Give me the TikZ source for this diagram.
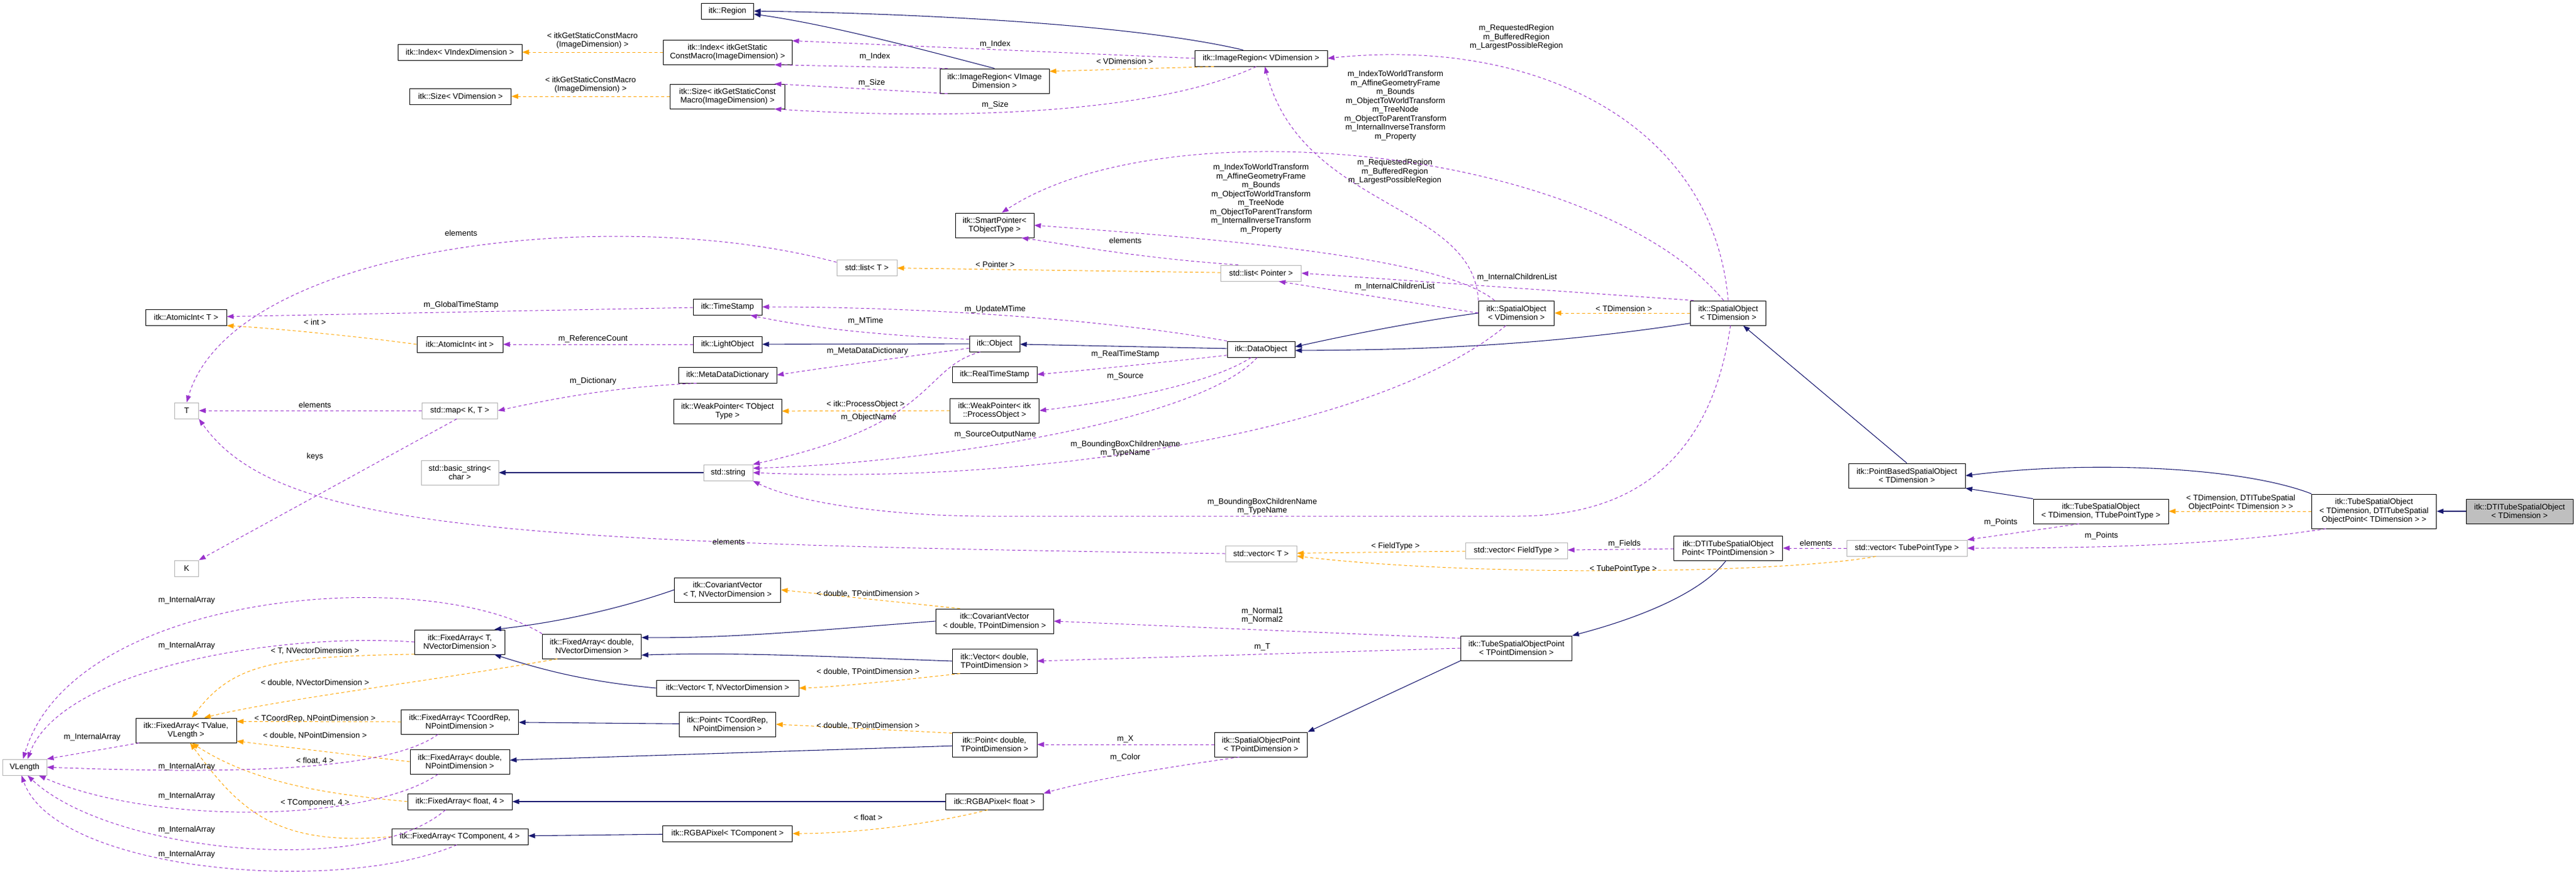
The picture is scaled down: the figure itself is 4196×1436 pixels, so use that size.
\documentclass[tikz,border=0pt]{standalone}
\usepackage{fontspec}
\setmainfont{Liberation Sans}
\usetikzlibrary{arrows.meta}
\definecolor{navy}{RGB}{25,25,112}
\definecolor{purp}{RGB}{153,50,204}
\definecolor{orng}{RGB}{255,165,0}
\begin{document}
\begin{tikzpicture}[x=1pt,y=-1pt,
  every node/.style={font=\fontsize{13}{14.5}\selectfont,align=center,inner sep=2pt},
  box/.style={draw=black,line width=1pt,fill=white,minimum height=26pt,inner xsep=4pt},
  gbox/.style={draw=black!30,line width=1pt,fill=white,minimum height=26pt,inner xsep=4pt},
  tip/.style={-{Triangle[length=11pt,width=8pt]}},
  inh/.style={tip,draw=navy,line width=1.1pt},
  mem/.style={tip,draw=purp,dashed,dash pattern=on 5pt off 4pt,line width=1pt},
  tpl/.style={tip,draw=orng,dashed,dash pattern=on 5pt off 4pt,line width=1pt},
  lbl/.style={}]
\useasboundingbox (0,0) rectangle (4196,1436);
% nodes
\node[box,minimum width=85] (region) at (1185,18) {itk::Region};
\node[box,minimum width=202] (indexv) at (749,85) {itk::Index< VIndexDimension >};
\node[box,minimum width=210,minimum height=40] (indexs) at (1185,85) {itk::Index< itkGetStatic\\ConstMacro(ImageDimension) >};
\node[box,minimum width=165] (sizev) at (750,157) {itk::Size< VDimension >};
\node[box,minimum width=187,minimum height=40] (sizes) at (1185,157) {itk::Size< itkGetStaticConst\\Macro(ImageDimension) >};
\node[box,minimum width=216] (irv) at (2054,95) {itk::ImageRegion< VDimension >};
\node[box,minimum width=178,minimum height=40] (irvi) at (1620,132) {itk::ImageRegion< VImage\\Dimension >};
\node[box,minimum width=128,minimum height=40] (smart) at (1620,367) {itk::SmartPointer<\\TObjectType >};
\node[gbox,minimum width=98] (listt) at (1412,436) {std::list< T >};
\node[gbox,minimum width=131] (listp) at (2054,445) {std::list< Pointer >};
\node[box,minimum width=123,minimum height=40] (sov) at (2470,510) {itk::SpatialObject\\< VDimension >};
\node[box,minimum width=123,minimum height=40] (sot) at (2815,510) {itk::SpatialObject\\< TDimension >};
\node[box,minimum width=132] (atomt) at (303,517) {itk::AtomicInt< T >};
\node[box,minimum width=140] (atomi) at (749,561) {itk::AtomicInt< int >};
\node[box,minimum width=112] (ts) at (1185,500) {itk::TimeStamp};
\node[box,minimum width=112] (light) at (1185,561) {itk::LightObject};
\node[box,minimum width=160] (mdd) at (1185,611) {itk::MetaDataDictionary};
\node[box,minimum width=176,minimum height=40] (weakt) at (1185,670) {itk::WeakPointer< TObject\\Type >};
\node[gbox,minimum width=39] (T) at (304,669) {T};
\node[gbox,minimum width=123] (map) at (749,669) {std::map< K, T >};
\node[box,minimum width=82] (obj) at (1620,560) {itk::Object};
\node[box,minimum width=110] (dobj) at (2054,569) {itk::DataObject};
\node[box,minimum width=138] (rts) at (1620,610) {itk::RealTimeStamp};
\node[box,minimum width=145,minimum height=40] (weakp) at (1620,669) {itk::WeakPointer< itk\\::ProcessObject >};
\node[gbox,minimum width=126,minimum height=40] (bstr) at (749,770) {std::basic\_string<\\char >};
\node[gbox,minimum width=80] (str) at (1186,770) {std::string};
\node[gbox,minimum width=39] (K) at (304,926) {K};
\node[box,minimum width=173,minimum height=40] (cvt) at (1185,961) {itk::CovariantVector\\< T, NVectorDimension >};
\node[box,minimum width=147,minimum height=40] (fat) at (749,1046) {itk::FixedArray< T,\\NVectorDimension >};
\node[box,minimum width=161,minimum height=40] (fadn) at (964,1053) {itk::FixedArray< double,\\NVectorDimension >};
\node[box,minimum width=232] (vt) at (1185,1121) {itk::Vector< T, NVectorDimension >};
\node[box,minimum width=164,minimum height=40] (fatv) at (303,1190) {itk::FixedArray< TValue,\\VLength >};
\node[box,minimum width=191,minimum height=40] (fac) at (749,1176) {itk::FixedArray< TCoordRep,\\NPointDimension >};
\node[box,minimum width=157,minimum height=40] (pt) at (1185,1180) {itk::Point< TCoordRep,\\NPointDimension >};
\node[box,minimum width=162,minimum height=40] (fadp) at (749,1241) {itk::FixedArray< double,\\NPointDimension >};
\node[gbox,minimum width=72] (vl) at (40,1250) {VLength};
\node[box,minimum width=170] (faf) at (749,1306) {itk::FixedArray< float, 4 >};
\node[box,minimum width=222] (fatc) at (749,1363) {itk::FixedArray< TComponent, 4 >};
\node[box,minimum width=211] (rgbt) at (1185,1358) {itk::RGBAPixel< TComponent >};
\node[box,minimum width=192,minimum height=40] (cvd) at (1620,1012) {itk::CovariantVector\\< double, TPointDimension >};
\node[box,minimum width=138,minimum height=40] (vd) at (1620,1077) {itk::Vector< double,\\TPointDimension >};
\node[box,minimum width=138,minimum height=40] (pd) at (1620,1213) {itk::Point< double,\\TPointDimension >};
\node[box,minimum width=159] (rgbf) at (1620,1306) {itk::RGBAPixel< float >};
\node[gbox,minimum width=116] (vect) at (2054,902) {std::vector< T >};
\node[gbox,minimum width=166] (vecf) at (2470,897) {std::vector< FieldType >};
\node[box,minimum width=177,minimum height=40] (dtip) at (2815,893) {itk::DTITubeSpatialObject\\Point< TPointDimension >};
\node[box,minimum width=181,minimum height=40] (tsop) at (2470,1056) {itk::TubeSpatialObjectPoint\\< TPointDimension >};
\node[box,minimum width=151,minimum height=40] (sop) at (2054,1213) {itk::SpatialObjectPoint\\< TPointDimension >};
\node[box,minimum width=190,minimum height=40] (pbso) at (3106,775) {itk::PointBasedSpatialObject\\< TDimension >};
\node[box,minimum width=220,minimum height=40] (tubett) at (3422,833) {itk::TubeSpatialObject\\< TDimension, TTubePointType >};
\node[box,minimum width=203,minimum height=56] (tubedti) at (3867,833) {itk::TubeSpatialObject\\< TDimension, DTITubeSpatial\\ObjectPoint< TDimension > >};
\node[box,minimum width=174,minimum height=40,fill=black!25] (dti) at (4104,833) {itk::DTITubeSpatialObject\\< TDimension >};
\node[gbox,minimum width=196] (vectp) at (3106,893) {std::vector< TubePointType >};

% inheritance
\draw[inh] (irv.155) .. controls (1850,40) and (1500,22) .. (region.east);
\draw[inh] (irvi.north) .. controls (1500,80) and (1350,40) .. ([yshift=-5]region.east);
\draw[inh] (obj) -- (light);
\draw[inh] (dobj) -- (obj);
\draw[inh] (sov.west) .. controls (2300,525) and (2200,545) .. ([yshift=4]dobj.east);
\draw[inh] (sot.195) .. controls (2500,565) and (2300,570) .. ([yshift=-2]dobj.east);
\draw[inh] (pbso.north) -- (sot.-40);
\draw[inh] (tubett.north west) -- (pbso.south east);
\draw[inh] (tubedti.north west) .. controls (3650,760) and (3400,750) .. (pbso.east);
\draw[inh] (dti) -- (tubedti);
\draw[inh] (str) -- (bstr);
\draw[inh] (dtip.-100) .. controls (2760,980) and (2620,1020) .. (tsop.north east);
\draw[inh] (tsop.south west) -- (sop.north east);
\draw[inh] (cvt.west) .. controls (1000,995) and (900,1015) .. (fat.20);
\draw[inh] (vt.west) .. controls (950,1110) and (880,1090) .. (fat.-20);
\draw[inh] (cvd.west) .. controls (1350,1025) and (1200,1040) .. (fadn.10);
\draw[inh] (vd.west) .. controls (1350,1070) and (1200,1062) .. (fadn.-10);
\draw[inh] (pt) -- (fac);
\draw[inh] (pd) -- (fadp);
\draw[inh] (rgbf) -- (faf);
\draw[inh] (rgbt) -- (fatc);

% templates
\draw[tpl] (indexs) -- (indexv) node[lbl,pos=0.5,above=3pt] {< itkGetStaticConstMacro\\(ImageDimension) >};
\draw[tpl] (sizes) -- (sizev) node[lbl,pos=0.5,above=3pt] {< itkGetStaticConstMacro\\(ImageDimension) >};
\draw[tpl] (irv.-170) -- (irvi.10);
\node[lbl] at (1832,100) {< VDimension >};
\draw[tpl] (listp) -- (listt);
\node[lbl] at (1621,431) {< Pointer >};
\draw[tpl] (atomi.west) .. controls (600,550) and (450,535) .. (atomt.south east);
\node[lbl] at (513,525) {< int >};
\draw[tpl] (weakp) -- (weakt);
\node[lbl] at (1410,659) {< itk::ProcessObject >};
\draw[tpl] (sot) -- (sov);
\node[lbl] at (2645,503) {< TDimension >};
\draw[tpl] (tubedti.west) -- (tubett.east);
\node[lbl] at (3650,819) {< TDimension, DTITubeSpatial\\ObjectPoint< TDimension > >};
\draw[tpl] (vecf) -- (vect);
\node[lbl] at (2273,890) {< FieldType >};
\draw[tpl] (vectp.-165) .. controls (2900,935) and (2400,940) .. ([yshift=-4]vect.east);
\node[lbl] at (2644,927) {< TubePointType >};
\draw[tpl] (cvd.160) -- (cvt.east);
\node[lbl] at (1414,968) {< double, TPointDimension >};
\draw[tpl] (vd.-160) .. controls (1450,1110) and (1350,1120) .. (vt.east);
\node[lbl] at (1414,1095) {< double, TPointDimension >};
\draw[tpl] (pd.165) -- (pt.east);
\node[lbl] at (1414,1183) {< double, TPointDimension >};
\draw[tpl] (rgbf.-130) .. controls (1530,1340) and (1400,1358) .. (rgbt.east);
\node[lbl] at (1414,1332) {< float >};
\draw[tpl] (fat.-165) .. controls (450,1070) and (380,1080) .. (fatv.65);
\node[lbl] at (513,1061) {< T, NVectorDimension >};
\draw[tpl] (fadn.-160) .. controls (700,1110) and (450,1140) .. (fatv.35);
\node[lbl] at (513,1113) {< double, NVectorDimension >};
\draw[tpl] (fac.west) -- (fatv.10);
\node[lbl] at (513,1171) {< TCoordRep, NPointDimension >};
\draw[tpl] (fadp.west) -- (fatv.-12);
\node[lbl] at (513,1199) {< double, NPointDimension >};
\draw[tpl] (faf.west) .. controls (550,1295) and (420,1280) .. (fatv.-65);
\node[lbl] at (513,1240) {< float, 4 >};
\draw[tpl] (fatc.west) .. controls (450,1380) and (390,1320) .. (fatv.-72);
\node[lbl] at (513,1308) {< TComponent, 4 >};

% members
\draw[mem] (irv.west) -- (indexs.10);
\node[lbl] at (1621,72) {m\_Index};
\draw[mem] (irvi.165) -- (indexs.-15);
\node[lbl] at (1425,92) {m\_Index};
\draw[mem] (irvi.-165) -- (sizes.15);
\node[lbl] at (1420,135) {m\_Size};
\draw[mem] (irv.-120) .. controls (1850,200) and (1450,190) .. (sizes.-15);
\node[lbl] at (1621,171) {m\_Size};
\draw[mem] (sot.north) .. controls (2790,200) and (2500,60) .. (irv.east);
\node[lbl] at (2470,61) {m\_RequestedRegion\\m\_BufferedRegion\\m\_LargestPossibleRegion};
\draw[mem] (sov.north west) .. controls (2400,330) and (2120,340) .. (irv.-65);
\node[lbl] at (2272,280) {m\_RequestedRegion\\m\_BufferedRegion\\m\_LargestPossibleRegion};
\draw[mem] (sot.110) .. controls (2600,240) and (1900,170) .. (smart.60);
\node[lbl] at (2273,172) {m\_IndexToWorldTransform\\m\_AffineGeometryFrame\\m\_Bounds\\m\_ObjectToWorldTransform\\m\_TreeNode\\m\_ObjectToParentTransform\\m\_InternalInverseTransform\\m\_Property};
\draw[mem] (sov.150) .. controls (2350,420) and (2000,390) .. (smart.east);
\node[lbl] at (2054,324) {m\_IndexToWorldTransform\\m\_AffineGeometryFrame\\m\_Bounds\\m\_ObjectToWorldTransform\\m\_TreeNode\\m\_ObjectToParentTransform\\m\_InternalInverseTransform\\m\_Property};
\draw[mem] (listp.160) .. controls (1850,420) and (1750,400) .. (smart.-25);
\node[lbl] at (1833,392) {elements};
\draw[mem] (listt.170) .. controls (1000,330) and (380,400) .. (T.north);
\node[lbl] at (751,380) {elements};
\draw[mem] (map) -- (T);
\node[lbl] at (513,660) {elements};
\draw[mem] (map.-110) -- (K.north east);
\node[lbl] at (513,744) {keys};
\draw[mem] (vect.west) .. controls (800,885) and (450,860) .. (T.south east);
\node[lbl] at (1187,883) {elements};
\draw[mem] (sot.160) -- (listp.east);
\node[lbl] at (2471,452) {m\_InternalChildrenList};
\draw[mem] (sov.west) -- (listp.-25);
\node[lbl] at (2272,467) {m\_InternalChildrenList};
\draw[mem] (ts) -- (atomt);
\node[lbl] at (751,497) {m\_GlobalTimeStamp};
\draw[mem] (light) -- (atomi);
\node[lbl] at (966,552) {m\_ReferenceCount};
\draw[mem] (dobj.north west) .. controls (1800,520) and (1500,500) .. (ts.east);
\node[lbl] at (1621,504) {m\_UpdateMTime};
\draw[mem] (obj.170) .. controls (1400,545) and (1300,530) .. (ts.-20);
\node[lbl] at (1410,523) {m\_MTime};
\draw[mem] (obj.-170) .. controls (1450,585) and (1350,598) .. (mdd.east);
\node[lbl] at (1413,572) {m\_MetaDataDictionary};
\draw[mem] (mdd.-165) .. controls (1000,630) and (900,650) .. (map.east);
\node[lbl] at (966,621) {m\_Dictionary};
\draw[mem] (dobj.-170) .. controls (1900,590) and (1750,605) .. (rts.east);
\node[lbl] at (1833,577) {m\_RealTimeStamp};
\draw[mem] (dobj.-140) .. controls (1980,620) and (1850,650) .. (weakp.east);
\node[lbl] at (1833,613) {m\_Source};
\draw[mem] (obj.-150) .. controls (1500,600) and (1530,690) .. (str.north east);
\node[lbl] at (1415,680) {m\_ObjectName};
\draw[mem] (dobj.-115) .. controls (1950,690) and (1500,755) .. (str.10);
\node[lbl] at (1621,708) {m\_SourceOutputName};
\draw[mem] (sov.-130) .. controls (2250,700) and (1700,790) .. (str.east);
\node[lbl] at (1833,731) {m\_BoundingBoxChildrenName\\m\_TypeName};
\draw[mem] (sot.-80) .. controls (2780,800) and (2600,841) .. (2470,841) -- (1600,841) .. controls (1450,840) and (1300,820) .. (str.south east);
\node[lbl] at (2056,825) {m\_BoundingBoxChildrenName\\m\_TypeName};
\draw[mem] (dtip) -- (vecf);
\node[lbl] at (2646,886) {m\_Fields};
\draw[mem] (vectp) -- (dtip);
\node[lbl] at (2958,885) {elements};
\draw[mem] (tubett.-150) -- (vectp.north east);
\node[lbl] at (3259,851) {m\_Points};
\draw[mem] (tubedti.-160) .. controls (3600,890) and (3400,893) .. (vectp.east);
\node[lbl] at (3423,873) {m\_Points};
\draw[mem] (tsop.170) -- (cvd.east);
\node[lbl] at (2056,1003) {m\_Normal1\\m\_Normal2};
\draw[mem] (tsop.west) -- (vd.east);
\node[lbl] at (2056,1054) {m\_T};
\draw[mem] (sop) -- (pd);
\node[lbl] at (1833,1204) {m\_X};
\draw[mem] (sop.-150) .. controls (1900,1250) and (1780,1270) .. (rgbf.north east);
\node[lbl] at (1833,1234) {m\_Color};
% m_InternalArray
\draw[mem] (fatv.-165) -- (vl.north east);
\node[lbl] at (150,1201) {m\_InternalArray};
\draw[mem] (fat.west) .. controls (450,1030) and (100,1090) .. (vl.70);
\node[lbl] at (304,1052) {m\_InternalArray};
\draw[mem] (fadn.north west) .. controls (700,920) and (120,960) .. (vl.100);
\node[lbl] at (304,978) {m\_InternalArray};
\draw[mem] (fac.-150) .. controls (620,1265) and (300,1258) .. (vl.east);
\node[lbl] at (304,1249) {m\_InternalArray};
\draw[mem] (fadp.-150) .. controls (600,1340) and (250,1345) .. (vl.-30);
\node[lbl] at (304,1297) {m\_InternalArray};
\draw[mem] (faf.-150) .. controls (600,1430) and (180,1390) .. (vl.-70);
\node[lbl] at (304,1352) {m\_InternalArray};
\draw[mem] (fatc.-110) .. controls (550,1460) and (90,1420) .. (vl.-110);
\node[lbl] at (304,1392) {m\_InternalArray};
\end{tikzpicture}
\end{document}
